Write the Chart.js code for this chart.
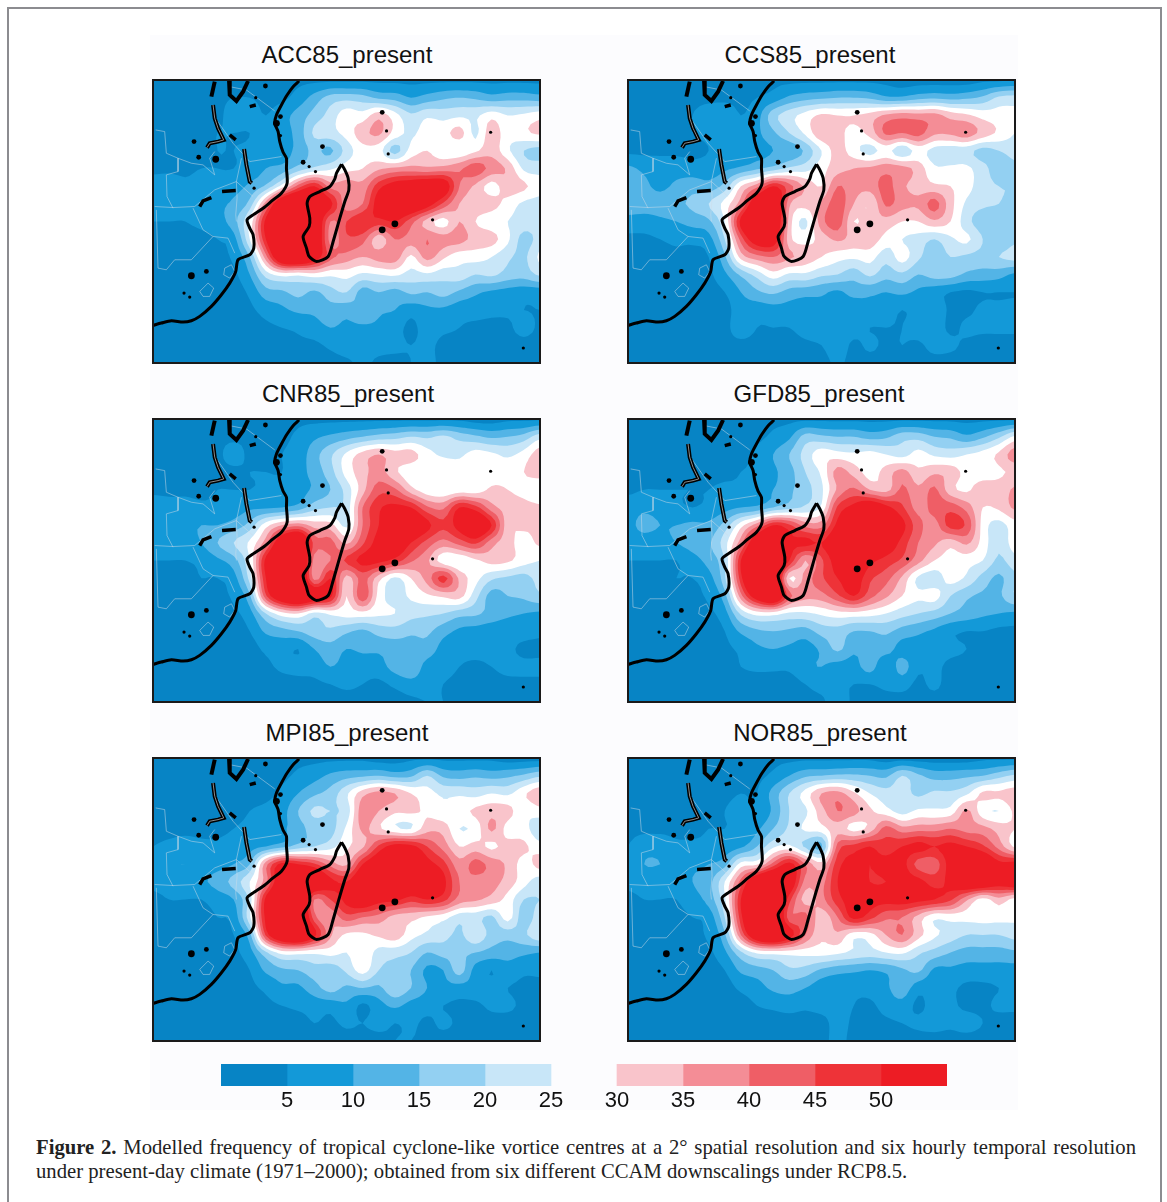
<!DOCTYPE html>
<html>
<head>
<meta charset="utf-8">
<title>Figure 2</title>
<script src="https://cdn.jsdelivr.net/npm/chart.js@4"></script>
<style>
  html, body { margin: 0; padding: 0; background: #fff; }
  #page { position: relative; width: 1167px; height: 1202px; overflow: hidden; }
  #outer { position: absolute; left: 7px; top: 7px; width: 1151px; height: 1200px; border: 2px solid #8c8c90; border-bottom: 0; }
  #plate { position: absolute; left: 150px; top: 35px; width: 868px; height: 1075px; background: #fcfcfe; }
  .title { position: absolute; width: 300px; text-align: center; font: 24px/26px "Liberation Sans", sans-serif; color: #111; }
  canvas { position: absolute; filter: blur(0.5px); }
  #caption { position: absolute; left: 36px; top: 1135px; width: 1100px; font: 20.7px/24px "Liberation Serif", serif; color: #222; }
  #caption div:first-child { text-align: justify; text-align-last: justify; white-space: nowrap; }
</style>
</head>
<body>
<div id="page">
  <div id="outer"></div>
  <div id="plate"></div>
  <div id="caption">
    <div><b>Figure 2.</b> Modelled frequency of tropical cyclone-like vortice centres at a 2° spatial resolution and six hourly temporal resolution</div>
    <div>under present-day climate (1971–2000); obtained from six different CCAM downscalings under RCP8.5.</div>
  </div>
</div>
<script>
// Grid nodes of the frequency fields, in map units of the panel
const gridX = [10,58,107,155,203,252,300,348,397,445,493,542,590,638,687,735,783,832,880,928,977,1025,1073,1122,1170];
const gridY = [15,68,121,174,227,280,333,386,439,492,545,598,651,704,757,810,865];

// Contour classes (the top class is open ended)
const classLow = [0,5,10,15,20,25,30,35,40,45,50];
const classHigh = [5,10,15,20,25,30,35,40,45,50,55];
const classColors = ['#0784c5','#1399d8','#53b4e6','#93d0f2','#c8e6f8','#ffffff','#f9c4cb','#f48d96','#ef5e66','#ee3338','#ed1c24'];
const barTicks = [5,10,15,20,25,30,35,40,45,50];

const acc85 = [
  [3,3,3,3,3,3,3,3,3,4,4,4,4,4,4,4,4,4,4,4,4,4,4,4,4],
  [4,4,4,4,4,5,5,4,4,7,12,17,18,17,14,13,10,12,14,15,14,12,13,13,12],
  [4,4,4,4,4,7,7,5,8,12,17,22,28,27,33,27,21,24,23,24,24,28,25,26,28],
  [4,4,4,4,5,5,5,8,8,12,21,23,27,33,36,28,24,28,28,32,24,33,27,29,31],
  [4,4,4,4,5,5,6,8,7,12,16,14,22,28,27,18,27,30,26,26,29,33,26,20,18],
  [4,4,4,5,5,5,7,10,12,17,21,24,28,30,34,36,37,36,37,39,43,38,34,24,23],
  [7,8,6,7,6,8,11,16,27,42,50,38,38,37,48,54,56,58,56,40,34,28,33,31,27],
  [6,7,6,7,9,11,17,38,62,68,62,52,37,40,54,62,60,54,44,35,33,32,28,24,23],
  [5,5,5,6,8,13,26,52,68,70,62,40,45,50,48,50,42,33,28,35,30,27,25,23,22],
  [4,4,4,4,5,8,25,50,70,70,62,38,44,42,32,40,38,40,37,37,33,32,26,18,22],
  [4,4,4,4,4,6,15,38,62,66,56,42,38,35,37,38,29,37,31,27,27,25,21,19,26],
  [3,3,3,3,3,4,10,22,27,26,28,26,27,24,25,26,23,24,22,23,20,21,18,17,21],
  [3,3,3,3,3,3,6,13,14,17,14,18,20,13,15,13,16,15,17,14,11,9,8,7,7],
  [3,3,3,3,3,3,4,7,9,11,11,13,12,15,11,10,7,9,9,7,7,6,6,5,5],
  [3,3,3,3,3,3,3,4,5,6,8,10,9,9,9,7,4,7,6,5,4,4,4,7,4],
  [3,3,3,3,3,3,3,3,3,4,4,6,8,8,7,6,5,6,4,4,3,3,3,3,3],
  [3,3,3,3,3,3,3,3,3,3,3,3,4,6,4,4,5,6,4,3,3,3,3,3,3]
];
const ccs85 = [
  [3,3,3,3,3,3,3,3,3,4,4,4,4,4,4,4,4,3,3,3,3,3,4,4,5],
  [4,4,4,4,4,4,4,4,5,7,11,13,14,15,15,14,11,11,13,14,13,14,16,21,22],
  [4,4,4,4,5,7,8,5,8,18,23,27,31,30,30,32,36,38,37,37,33,31,28,27,26],
  [4,4,4,4,5,6,7,7,9,14,20,26,34,32,28,32,41,40,42,36,36,38,33,29,25],
  [4,4,4,4,4,5,7,6,8,10,11,16,25,32,27,23,27,21,27,23,22,22,18,20,22],
  [11,9,8,8,7,7,9,11,14,17,21,23,28,33,35,36,38,37,33,26,26,26,22,17,19],
  [13,11,9,11,13,12,17,30,38,50,42,34,30,40,37,37,42,36,33,31,30,27,22,20,20],
  [13,12,12,14,16,20,27,38,60,66,36,32,36,43,35,30,41,37,36,42,32,24,21,20,19],
  [8,8,9,10,12,14,25,52,68,64,33,24,38,43,30,33,33,30,30,34,30,22,17,18,20],
  [4,4,5,6,6,8,20,42,56,56,32,28,32,36,33,33,28,25,23,20,24,26,20,15,19],
  [4,4,4,4,4,5,14,32,38,40,36,33,30,27,26,27,22,27,21,17,20,19,18,20,22],
  [3,3,3,3,3,4,9,16,22,28,24,24,21,20,17,21,17,19,15,17,17,14,13,12,9],
  [3,3,3,3,3,3,5,10,14,16,13,12,11,9,12,11,10,11,9,7,5,4,5,5,5],
  [3,3,3,3,3,3,3,8,7,8,8,7,9,8,6,9,8,5,7,9,4,4,6,6,6],
  [3,3,3,3,3,3,3,9,5,5,5,7,8,7,7,5,5,5,8,8,4,6,6,6,6],
  [3,3,3,3,3,3,3,3,3,3,3,4,5,8,4,6,4,5,4,7,6,4,3,3,3],
  [3,3,3,3,3,3,3,3,3,3,3,3,3,6,3,3,3,3,3,3,3,3,3,3,3]
];
const cnr85 = [
  [3,3,3,3,3,3,3,3,3,4,4,4,4,4,4,4,4,4,4,4,3,3,4,4,4],
  [4,4,4,4,4,4,4,4,4,6,9,11,13,15,17,18,20,19,21,18,16,14,15,17,23],
  [4,4,4,4,4,7,4,4,5,7,13,19,26,32,35,32,32,27,24,24,27,26,24,27,33],
  [4,4,4,4,4,4,5,5,5,8,12,18,27,33,37,31,27,27,30,27,27,27,28,30,33],
  [4,4,4,4,5,5,5,6,7,8,11,15,22,33,43,41,32,27,26,27,27,31,30,28,25],
  [8,7,7,6,6,7,9,9,10,12,18,20,22,40,49,52,50,41,39,50,47,37,33,32,31],
  [9,10,9,10,10,12,17,28,35,38,33,32,24,40,50,60,60,52,46,53,60,50,32,31,31],
  [8,8,8,10,15,20,26,38,60,68,43,42,34,44,53,58,50,43,38,42,46,37,32,28,31],
  [5,5,5,6,9,13,25,52,68,68,38,40,46,52,52,48,41,36,27,26,29,32,31,27,25],
  [4,4,4,5,5,8,22,50,68,68,38,50,33,42,32,24,30,37,47,34,27,21,19,18,22],
  [4,4,4,4,4,6,14,44,60,66,58,52,30,44,28,23,26,29,31,32,22,13,15,16,19],
  [3,3,3,3,3,4,8,20,28,30,23,26,27,28,26,25,22,21,20,17,16,13,11,10,9],
  [3,3,3,3,3,3,5,11,13,15,18,19,16,14,17,18,16,16,12,9,8,7,7,7,6],
  [3,3,3,3,3,3,3,6,7,5,10,13,10,11,11,12,13,13,8,7,7,7,6,4,4],
  [3,3,3,3,3,3,3,4,6,7,7,10,8,7,8,12,14,8,7,5,4,5,6,6,6],
  [3,3,3,3,3,3,3,3,3,3,4,5,6,5,4,6,8,7,5,4,4,4,4,4,4],
  [3,3,3,3,3,3,3,3,3,3,3,3,3,3,3,3,4,5,5,4,3,3,3,3,3]
];
const gfd85 = [
  [3,3,3,3,3,3,3,3,3,4,4,4,4,4,4,4,4,4,4,4,4,4,4,4,4],
  [4,4,4,4,4,4,4,4,4,6,9,17,16,15,15,13,14,18,18,15,14,11,14,19,26],
  [4,4,4,4,4,4,4,4,6,10,15,22,28,27,26,27,25,23,27,24,23,25,27,31,38],
  [4,4,4,4,4,4,4,5,6,9,13,20,26,37,33,28,32,37,31,34,33,28,26,29,31],
  [4,5,5,5,5,5,6,6,8,10,14,18,24,36,41,35,33,41,36,41,32,29,34,32,36],
  [8,9,8,6,5,6,8,10,11,15,18,21,26,46,52,58,52,46,38,42,43,38,30,31,36],
  [9,11,10,10,11,11,17,28,38,50,46,38,38,52,58,62,58,52,42,38,47,44,28,23,28],
  [8,8,8,10,12,14,23,38,60,68,52,52,50,58,62,62,56,48,40,36,32,36,28,21,28],
  [5,5,5,5,8,12,20,50,68,68,50,35,44,54,60,52,48,44,37,30,28,27,25,19,23],
  [4,4,4,5,5,8,19,48,68,66,30,37,44,50,54,46,42,34,24,22,27,24,18,14,19],
  [4,4,4,4,4,6,13,38,56,64,42,37,38,44,50,42,36,30,26,27,20,16,14,14,20],
  [3,3,3,3,3,4,8,21,27,27,24,24,26,28,28,27,25,22,20,18,15,13,11,10,9],
  [3,3,3,3,3,3,5,11,14,15,14,13,17,18,15,15,16,13,11,9,6,5,5,4,4],
  [3,3,3,3,3,3,4,6,9,10,9,8,11,16,11,12,12,8,8,7,6,5,4,4,4],
  [3,3,3,3,3,3,3,5,6,6,6,9,10,8,8,12,6,12,6,6,4,4,4,4,4],
  [3,3,3,3,3,3,3,3,3,3,3,5,7,6,5,5,6,7,4,6,3,3,3,3,3],
  [3,3,3,3,3,3,3,3,3,3,3,3,4,8,4,3,3,3,3,3,3,3,3,3,3]
];
const mpi85 = [
  [3,3,3,3,3,3,3,3,3,4,4,4,4,4,3,3,4,4,4,4,4,4,3,3,3],
  [4,4,4,4,4,4,4,4,4,6,8,11,13,14,15,13,14,20,14,13,14,13,14,16,19],
  [4,4,4,4,4,4,4,4,6,10,14,17,24,33,37,35,30,27,24,24,23,25,24,29,34],
  [4,4,4,4,4,4,5,6,8,15,21,20,22,38,35,31,31,29,26,28,31,33,32,26,28],
  [4,4,4,4,4,5,6,7,9,13,17,18,26,36,31,26,25,33,33,25,27,36,28,27,21],
  [5,6,7,6,6,7,8,10,13,17,20,23,29,34,46,53,52,45,38,30,32,29,32,31,27],
  [6,9,10,8,8,10,15,38,52,50,46,38,34,50,58,62,60,53,47,37,42,38,34,28,32],
  [6,7,7,9,12,17,25,38,60,68,62,52,50,60,64,66,62,60,52,40,38,37,33,27,22],
  [4,5,5,5,7,10,22,52,68,68,40,45,52,58,53,52,47,50,47,38,36,33,28,20,20],
  [4,4,4,4,5,7,24,52,68,68,42,36,43,40,38,33,32,29,27,22,22,19,27,17,23],
  [4,4,4,4,4,5,13,46,62,66,52,36,29,29,31,33,27,24,22,19,24,18,17,19,24],
  [3,3,3,3,3,4,8,19,27,27,26,27,25,29,23,22,20,15,17,16,15,13,12,11,10],
  [3,3,3,3,3,3,5,11,14,15,18,17,21,27,20,18,15,9,10,17,8,5,8,6,6],
  [3,3,3,3,3,3,4,6,9,9,13,17,14,15,14,19,15,10,9,8,8,7,5,4,4],
  [3,3,3,3,3,3,3,4,5,6,7,7,9,4,8,11,8,7,5,4,4,6,6,4,4],
  [3,3,3,3,3,3,3,3,3,3,5,4,6,5,7,5,6,4,6,4,3,3,3,3,3],
  [3,3,3,3,3,3,3,3,3,3,3,3,3,3,3,5,5,4,3,3,3,3,3,3,3]
];
const nor85 = [
  [3,3,3,3,3,3,3,3,3,4,4,4,4,4,4,4,3,3,3,3,3,3,4,4,4],
  [4,4,4,4,4,4,4,4,4,6,10,14,15,16,16,15,14,20,16,13,13,14,15,18,21],
  [4,4,4,4,4,4,4,5,5,12,20,27,35,37,31,25,22,22,19,21,21,24,31,31,33],
  [4,4,4,4,4,4,5,7,6,11,20,24,33,40,37,31,27,23,26,26,27,36,27,25,31],
  [4,4,4,4,4,5,5,6,9,15,21,26,28,33,28,32,42,37,38,38,40,38,37,33,30],
  [5,8,8,6,6,6,7,9,15,24,26,19,14,42,47,50,47,50,52,50,52,50,46,38,29],
  [6,10,10,9,9,10,13,27,29,42,52,40,32,48,52,50,52,52,43,42,53,60,60,52,53],
  [6,7,7,8,10,13,25,42,62,68,58,38,38,50,53,50,50,53,52,48,52,60,60,54,58],
  [4,5,5,5,8,12,24,50,68,68,47,33,38,48,53,52,52,53,52,50,46,36,28,33,28],
  [4,4,4,4,5,7,20,48,68,68,42,42,32,40,52,47,41,40,33,26,27,27,27,27,26],
  [4,4,4,4,4,6,14,40,60,66,54,40,31,34,27,28,35,40,32,26,23,20,20,20,22],
  [3,3,3,3,3,4,9,19,26,27,27,27,27,26,24,23,25,26,21,18,15,13,13,13,14],
  [3,3,3,3,3,3,5,11,13,15,19,18,14,12,11,10,11,14,16,9,9,8,8,8,8],
  [3,3,3,3,3,3,3,6,8,11,12,10,7,6,6,7,9,13,7,7,6,4,4,5,6],
  [3,3,3,3,3,3,3,3,5,6,7,6,7,7,5,4,7,8,4,7,6,4,4,6,6],
  [3,3,3,3,3,3,3,3,3,3,3,3,3,7,4,3,4,5,6,7,6,7,5,3,3],
  [3,3,3,3,3,3,3,3,3,3,3,3,3,7,3,3,3,3,3,3,3,3,3,3,3]
];

// Coastlines, lakes and borders, same map units as the grid
const africaCoast = [[448,18],[430,35],[412,60],[395,90],[380,120],[375,145],[385,170],[390,200],[400,232],[410,250],[410,280],[412,325],[395,355],[370,375],[340,400],[310,420],[292,435],[300,460],[310,480],[312,520],[300,540],[265,555],[258,590],[240,625],[215,660],[185,695],[150,725],[125,738],[100,742],[65,738],[35,745],[10,752]];
const madagascar = [[575,268],[560,295],[555,312],[540,335],[510,350],[480,365],[472,385],[480,430],[478,455],[460,485],[470,520],[478,545],[500,560],[535,545],[550,500],[570,430],[585,380],[597,345],[595,310],[585,285],[575,268]];
const lakeVictoria = [[238,18],[240,60],[260,78],[280,50],[295,18]];
const lakeTanganyika = [[190,90],[195,130],[205,160],[222,195],[205,200],[180,205],[172,218]];
const lakeKivu = [[195,20],[185,65]];
const lakeMalawi = [[283,222],[290,270],[300,320],[306,325]];
const smallLakes = [
  [[240,180],[258,195]],
  [[217,350],[258,347]],
  [[150,395],[160,378],[185,368]],
  [[300,95],[318,90]]
];
const borderLines = [
  [[18,165],[45,170],[50,235],[85,250],[125,265],[160,270],[195,300]],
  [[85,250],[85,290],[50,300],[52,365],[70,400]],
  [[15,395],[70,398],[135,395],[195,345],[260,320],[310,365]],
  [[20,405],[25,580],[50,585],[75,555],[125,555],[190,485],[160,465],[130,400]],
  [[190,485],[235,490],[255,535]],
  [[240,35],[290,45],[375,108]],
  [[190,120],[250,205],[300,260],[395,245]],
  [[195,230],[180,250],[195,300]],
  [[275,250],[260,320],[262,370],[258,420],[260,440]],
  [[150,650],[175,625],[192,640],[180,665],[160,665],[150,650]],
  [[225,580],[245,570],[255,590],[240,610],[222,600],[225,580]]
];
const islandsSmall = [[710,168],[715,237],[848,435],[1022,172],[1120,820],[313,340],[103,655],[120,667],[497,290],[478,275],[392,182],[318,68]];
const islandsMedium = [[133,200],[147,247],[347,33],[518,215],[170,590],[460,262],[392,125],[697,112]];
const islandsLarge = [[697,465],[735,447],[198,253],[125,603],[380,145]];

const panels = [
  { id: 'acc', title: 'ACC85_present', rows: acc85, left: 153, top: 80, titleX: 347 },
  { id: 'ccs', title: 'CCS85_present', rows: ccs85, left: 628, top: 80, titleX: 810 },
  { id: 'cnr', title: 'CNR85_present', rows: cnr85, left: 153, top: 419, titleX: 348 },
  { id: 'gfd', title: 'GFD85_present', rows: gfd85, left: 628, top: 419, titleX: 819 },
  { id: 'mpi', title: 'MPI85_present', rows: mpi85, left: 153, top: 758, titleX: 347 },
  { id: 'nor', title: 'NOR85_present', rows: nor85, left: 628, top: 758, titleX: 820 }
];

const MESH = 4; // subdivisions per grid cell, only to round the drawn contours

function cubic(a, b, c, d, t) {
  return b + 0.5 * t * (c - a + t * (2 * a - 5 * b + 4 * c - d + t * (3 * (b - c) + d - a)));
}

/**
 * Valor do campo numa posição fracionária da grade (Catmull-Rom)
 */
function fieldAt(rows, fx, fy) {
  const j0 = Math.floor(fy), i0 = Math.floor(fx);
  const at = (j, i) => rows[Math.max(0, Math.min(rows.length - 1, j))][Math.max(0, Math.min(rows[0].length - 1, i))];
  const col = [-1, 0, 1, 2].map(dj => cubic(at(j0 + dj, i0 - 1), at(j0 + dj, i0), at(j0 + dj, i0 + 1), at(j0 + dj, i0 + 2), fx - i0));
  return cubic(col[0], col[1], col[2], col[3], fy - j0);
}

/**
 * Recorta um polígono pelo limiar: fica só a parte com valor >= limiar
 */
function clipCell(corners, level) {
  const out = [];
  corners.forEach((p, i) => {
    const q = corners[(i + 1) % corners.length];
    if (p.v >= level) out.push(p);
    if ((p.v >= level) !== (q.v >= level)) {
      const t = (level - p.v) / (q.v - p.v);
      out.push({ x: p.x + t * (q.x - p.x), y: p.y + t * (q.y - p.y), v: level });
    }
  });
  return out;
}

// Filled contours, drawn under the line datasets through the chart's scales
const contourPlugin = {
  id: 'contourBands',
  beforeDatasetsDraw(chart, args, opts) {
    const { ctx, chartArea, scales: { x, y } } = chart;
    const rows = opts.rows;
    const nx = (gridX.length - 1) * MESH, ny = (gridY.length - 1) * MESH;
    const mapX = f => x.getPixelForValue(gridX[0] + (gridX[gridX.length - 1] - gridX[0]) * f / nx);
    const mapY = f => y.getPixelForValue(gridY[0] + (gridY[gridY.length - 1] - gridY[0]) * f / ny);
    const mesh = [];
    for (let j = 0; j <= ny; j++) {
      mesh.push([]);
      for (let i = 0; i <= nx; i++) mesh[j].push(fieldAt(rows, i / MESH, j / MESH));
    }
    ctx.save();
    ctx.beginPath();
    ctx.rect(chartArea.left, chartArea.top, chartArea.width, chartArea.height);
    ctx.clip();
    ctx.fillStyle = classColors[0];
    ctx.fillRect(chartArea.left, chartArea.top, chartArea.width, chartArea.height);
    classLow.slice(1).forEach((level, k) => {
      ctx.beginPath();
      for (let j = 0; j < ny; j++) {
        for (let i = 0; i < nx; i++) {
          const poly = clipCell([
            { x: mapX(i), y: mapY(j), v: mesh[j][i] },
            { x: mapX(i + 1), y: mapY(j), v: mesh[j][i + 1] },
            { x: mapX(i + 1), y: mapY(j + 1), v: mesh[j + 1][i + 1] },
            { x: mapX(i), y: mapY(j + 1), v: mesh[j + 1][i] }
          ], level);
          if (poly.length < 3) continue;
          ctx.moveTo(poly[0].x, poly[0].y);
          poly.slice(1).forEach(p => ctx.lineTo(p.x, p.y));
          ctx.closePath();
        }
      }
      ctx.fillStyle = classColors[k + 1];
      ctx.fill();
    });
    ctx.restore();
  },
  afterDraw(chart) {
    const { ctx, chartArea: a } = chart;
    ctx.save();
    ctx.strokeStyle = '#1a1a1a';
    ctx.lineWidth = 2;
    ctx.strokeRect(a.left, a.top, a.width, a.height);
    ctx.restore();
  }
};

function toPoints(list) {
  return list.map(p => ({ x: p[0], y: p[1] }));
}

function lineSet(list, color, width, tension = 0) {
  return { type: 'line', data: toPoints(list), borderColor: color, borderWidth: width, pointRadius: 0, tension, fill: false };
}

function dotSet(list, radius) {
  return { type: 'scatter', data: toPoints(list), backgroundColor: '#000', borderWidth: 0, pointRadius: radius };
}

function createPanel(panel) {
  const page = document.getElementById('page');
  const title = document.createElement('div');
  title.className = 'title';
  title.textContent = panel.title;
  title.style.left = (panel.titleX - 150) + 'px';
  title.style.top = (panel.top - 38) + 'px';
  page.appendChild(title);

  const canvas = document.createElement('canvas');
  canvas.width = 391;
  canvas.height = 287;
  canvas.style.left = (panel.left - 2) + 'px';
  canvas.style.top = (panel.top - 2) + 'px';
  canvas.style.width = '391px';
  canvas.style.height = '287px';
  page.appendChild(canvas);

  // o primeiro dataset fica por cima no Chart.js
  const datasets = [
    dotSet(islandsLarge, 3.4),
    dotSet(islandsMedium, 2.4),
    dotSet(islandsSmall, 1.6),
    lineSet(madagascar, '#000', 3, 0.25),
    lineSet(africaCoast, '#000', 3, 0.25),
    lineSet(lakeTanganyika, '#8a8a8a', 1),
    lineSet(lakeMalawi, '#8a8a8a', 1),
    lineSet(lakeVictoria, '#000', 4),
    lineSet(lakeTanganyika, '#000', 4),
    lineSet(lakeKivu, '#000', 4),
    lineSet(lakeMalawi, '#000', 4),
    ...smallLakes.map(l => lineSet(l, '#000', 3.5)),
    ...borderLines.map(b => lineSet(b, 'rgba(205,220,232,0.5)', 1))
  ];

  new Chart(canvas, {
    data: { datasets },
    plugins: [contourPlugin],
    options: {
      responsive: false,
      animation: false,
      layout: { padding: 2, autoPadding: false },
      plugins: {
        legend: { display: false },
        tooltip: { enabled: false },
        contourBands: { rows: panel.rows }
      },
      scales: {
        x: { type: 'linear', display: false, min: gridX[0], max: gridX[gridX.length - 1] },
        y: { type: 'linear', display: false, reverse: true, min: gridY[0], max: gridY[gridY.length - 1] }
      }
    }
  });
}

function createColorBar() {
  const canvas = document.createElement('canvas');
  canvas.width = 780;
  canvas.height = 46;
  canvas.style.left = '200px';
  canvas.style.top = '1062px';
  canvas.style.width = '780px';
  canvas.style.height = '46px';
  canvas.style.filter = 'none';
  document.getElementById('page').appendChild(canvas);

  // a classe branca (25-30) fica como um vão na barra
  const barSets = classLow
    .map((low, i) => ({
      data: [[low, classHigh[i]]],
      backgroundColor: classColors[i],
      borderWidth: 0,
      barPercentage: 1,
      categoryPercentage: 1,
      grouped: false
    }))
    .filter(set => set.backgroundColor !== '#ffffff');

  new Chart(canvas, {
    type: 'bar',
    data: { labels: ['frequency'], datasets: barSets },
    options: {
      indexAxis: 'y',
      responsive: false,
      animation: false,
      layout: { padding: { left: 21, right: 33, top: 2 } },
      plugins: { legend: { display: false }, tooltip: { enabled: false } },
      scales: {
        x: {
          type: 'linear',
          min: 0,
          max: 55,
          grid: { display: false, drawTicks: false },
          border: { display: false },
          ticks: {
            stepSize: 5,
            padding: 2,
            maxRotation: 0,
            autoSkip: false,
            color: '#111',
            font: { family: '"Liberation Sans", sans-serif', size: 22 },
            callback: v => (barTicks.includes(v) ? String(v) : '')
          }
        },
        y: { display: false }
      }
    }
  });
}

document.addEventListener('DOMContentLoaded', () => {
  panels.forEach(createPanel);
  createColorBar();
});
</script>
</body>
</html>
